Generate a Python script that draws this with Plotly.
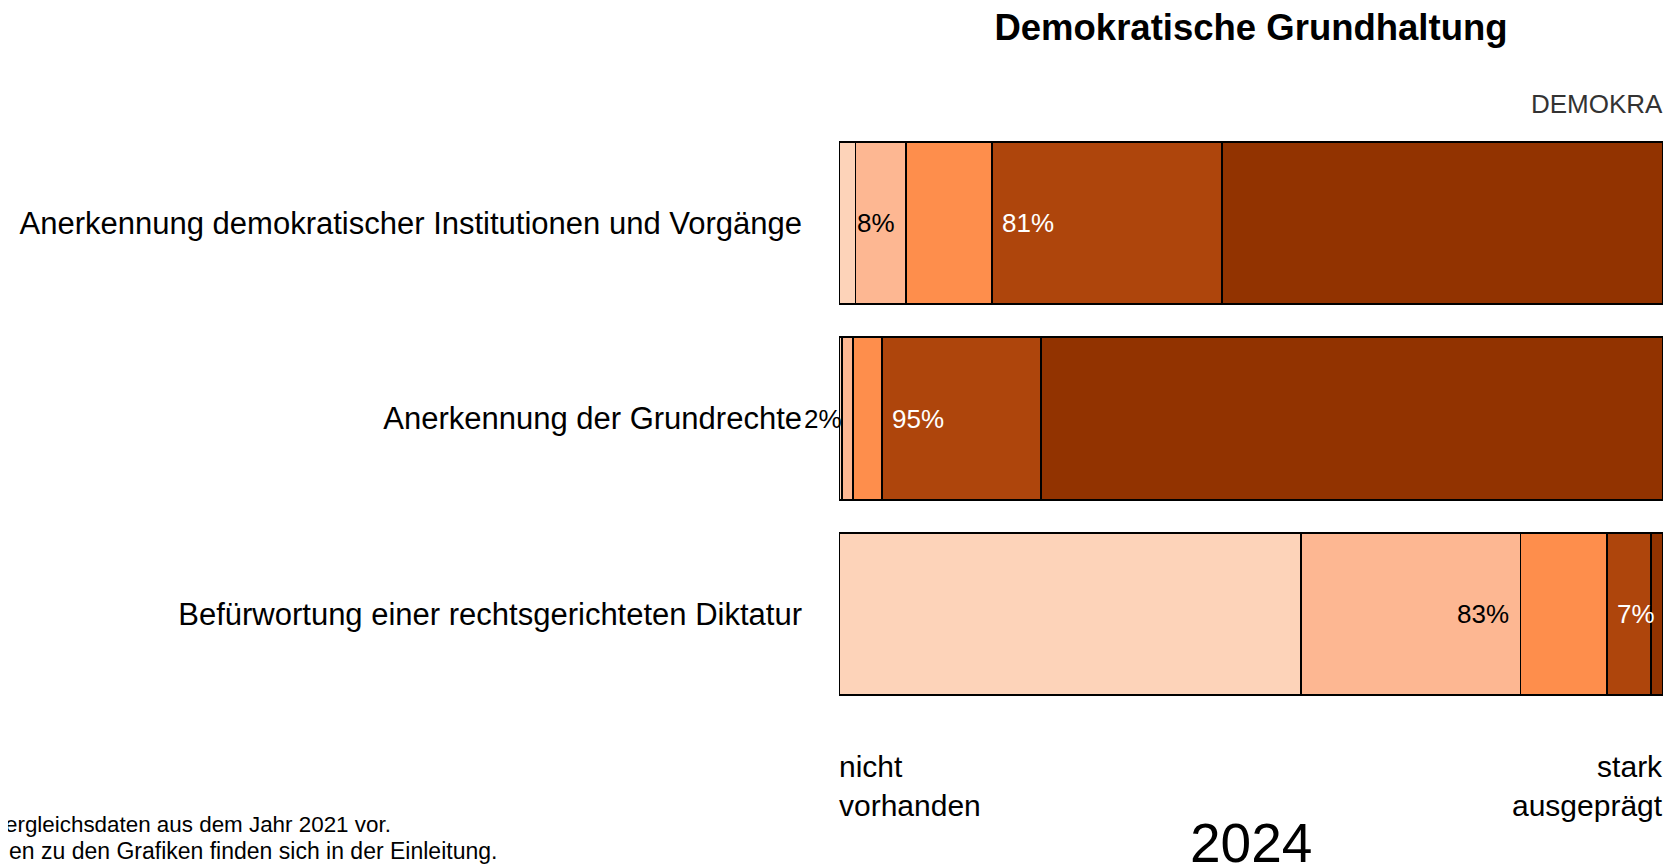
import plotly.graph_objects as go

# ---- data ----
categories = [
    "Anerkennung demokratischer Institutionen und Vorgänge",
    "Anerkennung der Grundrechte",
    "Befürwortung einer rechtsgerichteten Diktatur",
]
seg_names = ["1", "2", "3", "4", "5"]
seg1 = [2.0, 0.4, 56.1]
seg2 = [6.1, 1.3, 26.6]
seg3 = [10.5, 3.5, 10.5]
seg4 = [27.9, 19.3, 5.3]
seg5 = [53.5, 75.5, 1.5]
low_labels = ["8%", "2%", "83%"]     # seg1 + seg2
high_labels = ["81%", "95%", "7%"]   # seg4 + seg5

colors = ["#FDD3B9", "#FDB792", "#FE8E4C", "#AE450C", "#923300"]
FONT = "Liberation Sans, Arial, Helvetica, sans-serif"

# page body has an 8px default margin -> figure is offset by 8px
OFF = 8
W, H = 1675 - OFF, 866 - OFF
ML, MR, MT, MB = 839 - OFF, 12, 125 - OFF, 154
PW = W - ML - MR
PH = H - MT - MB

fig = go.Figure()
for name, vals, col in zip(seg_names, [seg1, seg2, seg3, seg4, seg5], colors):
    fig.add_trace(go.Bar(
        y=categories, x=vals, name=name, orientation="h",
        marker=dict(color=col, line=dict(color="#000000", width=1.8)),
        hoverinfo="skip", showlegend=False,
    ))

annotations = []
for i, cat in enumerate(categories):
    x_low = seg1[i] + seg2[i]
    x_high = seg1[i] + seg2[i] + seg3[i]
    annotations.append(dict(
        x=x_low, y=cat, xref="x", yref="y", text=low_labels[i],
        xanchor="right", yanchor="middle", xshift=-9, showarrow=False,
        font=dict(family=FONT, size=26, color="#000000")))
    annotations.append(dict(
        x=x_high, y=cat, xref="x", yref="y", text=high_labels[i],
        xanchor="left", yanchor="middle", xshift=8, showarrow=False,
        font=dict(family=FONT, size=26, color="#FFFFFF")))


def page_x_to_paper(px):
    return (px - OFF - ML) / PW


annotations += [
    dict(x=1, y=1, xref="paper", yref="paper", text="DEMOKRA",
         xanchor="right", yanchor="middle", xshift=2, yshift=21,
         showarrow=False,
         font=dict(family=FONT, size=26, color="#333333")),
    dict(x=0, y=0, xref="paper", yref="paper", text="nicht<br>vorhanden",
         xanchor="left", yanchor="middle", xshift=-2, yshift=-74, align="left",
         showarrow=False, font=dict(family=FONT, size=30, color="#000000")),
    dict(x=1, y=0, xref="paper", yref="paper", text="stark<br>ausgeprägt",
         xanchor="right", yanchor="middle", xshift=2, yshift=-74, align="right",
         showarrow=False, font=dict(family=FONT, size=30, color="#000000")),
    dict(x=0.5, y=0, xref="paper", yref="paper", text="2024",
         xanchor="center", yanchor="middle", yshift=-131,
         showarrow=False, font=dict(family=FONT, size=55, color="#000000")),
    dict(x=page_x_to_paper(3), y=0, xref="paper", yref="paper",
         text="ergleichsdaten aus dem Jahr 2021 vor.",
         xanchor="left", yanchor="middle", yshift=-112,
         showarrow=False, font=dict(family=FONT, size=22.4, color="#000000")),
    dict(x=page_x_to_paper(499), y=0, xref="paper", yref="paper",
         text="en zu den Grafiken finden sich in der Einleitung.",
         xanchor="right", yanchor="middle", yshift=-139,
         showarrow=False, font=dict(family=FONT, size=23, color="#000000")),
]

fig.update_layout(
    width=W, height=H, autosize=False,
    margin=dict(l=ML, r=MR, t=MT, b=MB, pad=0),
    barmode="stack", bargap=0.17,
    paper_bgcolor="#FFFFFF", plot_bgcolor="#FFFFFF",
    title=dict(text="<b>Demokratische Grundhaltung</b>", x=0.5, xref="paper",
               xanchor="center", y=1 - (27 - OFF) / H, yref="container",
               yanchor="middle",
               font=dict(family=FONT, size=36.5, color="#000000")),
    xaxis=dict(range=[0, 100], visible=False, fixedrange=True),
    yaxis=dict(autorange="reversed", showgrid=False, zeroline=False,
               showline=False, ticks="", ticklabelstandoff=36,
               tickfont=dict(family=FONT, size=31, color="#000000")),
    annotations=annotations,
    showlegend=False,
)

fig.write_html("out.html")
